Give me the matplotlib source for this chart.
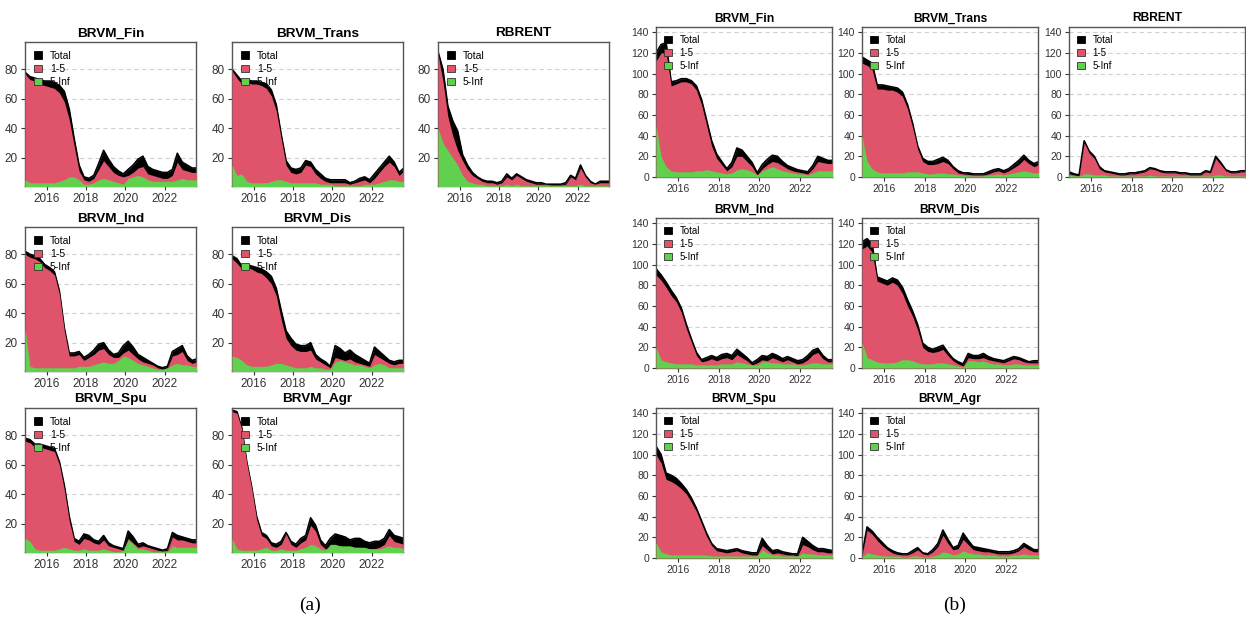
import matplotlib
matplotlib.use("Agg")
import matplotlib.pyplot as plt
from matplotlib.patches import Patch
import numpy as np

# quarterly sample dates (decimal years), shared by every panel
years = [2014.9 + 0.25 * i for i in range(36)]

# ---------------- panel (a) ----------------
fin_a_total = [78, 75, 74, 73, 72, 72, 71, 69, 65, 53, 33, 15, 7, 6, 8, 16, 25, 19, 14, 11, 9, 12, 15, 19, 21, 14, 12, 11, 10, 10, 12, 23, 17, 15, 13, 13]
fin_a_15 = [77, 73, 72, 70, 69, 68, 67, 64, 58, 46, 28, 11, 5, 4, 6, 12, 18, 14, 10, 8, 7, 8, 10, 13, 14, 9, 8, 7, 6, 6, 8, 17, 12, 11, 10, 10]
fin_a_5inf = [5, 3, 3, 3, 3, 3, 3, 4, 5, 7, 7, 5, 2, 2, 3, 5, 6, 5, 4, 3, 2, 6, 7, 8, 7, 5, 4, 4, 4, 4, 4, 5, 6, 5, 5, 5]

trans_a_total = [80, 76, 72, 73, 72, 72, 71, 70, 66, 56, 36, 18, 13, 12, 13, 18, 17, 12, 9, 6, 5, 5, 5, 5, 3, 4, 6, 7, 5, 9, 13, 17, 21, 17, 10, 13]
trans_a_15 = [79, 74, 70, 71, 70, 70, 69, 67, 62, 52, 33, 15, 10, 9, 10, 15, 14, 9, 6, 4, 3, 3, 3, 3, 2, 3, 4, 5, 3, 6, 10, 14, 17, 14, 8, 11]
trans_a_5inf = [15, 8, 9, 4, 3, 3, 3, 3, 4, 5, 5, 4, 3, 3, 3, 3, 3, 3, 2, 2, 2, 1, 1, 1, 1, 1, 1, 2, 2, 2, 3, 4, 5, 5, 4, 4]

rbrent_a_total = [92, 80, 55, 45, 38, 22, 15, 10, 7, 5, 4, 4, 3, 4, 9, 6, 9, 7, 5, 4, 3, 3, 2, 2, 2, 2, 3, 8, 6, 15, 8, 4, 2, 4, 4, 4]
rbrent_a_15 = [90, 72, 48, 35, 25, 18, 12, 8, 6, 4, 3, 3, 2, 3, 7, 5, 8, 6, 4, 3, 2, 2, 2, 1.5, 1.5, 1.5, 2, 7, 5, 13, 7, 3, 2, 3, 3, 3]
rbrent_a_5inf = [40, 30, 25, 20, 15, 8, 4, 3, 2, 2, 1, 1, 1, 1, 2, 1, 2, 1, 1, 1, 1, 1, 1, 1, 1, 1, 1, 1, 1, 2, 1, 1, 1, 1, 1, 1]

ind_a_total = [82, 80, 79, 77, 73, 71, 68, 55, 30, 13, 13, 14, 10, 12, 15, 19, 20, 15, 12, 13, 18, 21, 17, 12, 10, 8, 6, 4, 3, 4, 14, 16, 18, 11, 8, 9]
ind_a_15 = [80, 78, 77, 75, 71, 69, 66, 53, 28, 11, 11, 12, 8, 10, 12, 15, 16, 12, 10, 10, 13, 15, 12, 9, 7, 6, 5, 3, 2, 3, 11, 12, 14, 8, 6, 7]
ind_a_5inf = [30, 4, 3, 3, 3, 3, 3, 3, 3, 3, 3, 4, 4, 4, 5, 6, 7, 6, 6, 8, 11, 10, 8, 6, 5, 4, 3, 2, 2, 3, 5, 6, 5, 5, 4, 4]

dis_a_total = [79, 77, 72, 73, 72, 71, 70, 68, 65, 57, 42, 28, 23, 19, 18, 18, 20, 12, 9, 7, 4, 18, 16, 13, 15, 12, 10, 8, 6, 17, 14, 11, 8, 7, 8, 8]
dis_a_15 = [77, 74, 70, 71, 70, 68, 67, 64, 60, 52, 36, 23, 18, 15, 14, 14, 15, 9, 7, 5, 3, 10, 9, 8, 9, 7, 6, 5, 4, 12, 10, 8, 6, 5, 6, 6]
dis_a_5inf = [11, 10, 8, 5, 4, 4, 4, 4, 5, 6, 6, 5, 4, 3, 3, 3, 4, 3, 3, 2, 2, 7, 8, 7, 6, 5, 5, 4, 3, 5, 6, 5, 3, 3, 3, 3]

spu_a_total = [78, 77, 74, 74, 73, 72, 71, 62, 46, 25, 10, 8, 13, 12, 9, 8, 12, 7, 5, 4, 3, 15, 11, 6, 7, 5, 4, 3, 2, 3, 14, 12, 11, 10, 9, 9]
spu_a_15 = [76, 75, 72, 72, 71, 70, 69, 60, 43, 22, 8, 6, 10, 9, 7, 6, 9, 5, 4, 3, 2, 10, 7, 4, 5, 4, 3, 2, 1.5, 2, 11, 9, 9, 8, 7, 7]
spu_a_5inf = [10, 8, 3, 2, 2, 2, 2, 3, 4, 3, 2, 2, 3, 2, 2, 2, 3, 2, 1, 1, 2, 9, 6, 3, 3, 2, 1, 1, 1, 1, 5, 4, 4, 4, 4, 4]

agr_a_total = [97, 96, 85, 62, 45, 25, 14, 12, 7, 6, 8, 14, 8, 6, 10, 12, 24, 19, 9, 5, 10, 13, 12, 11, 9, 10, 10, 8, 7, 8, 8, 10, 16, 12, 11, 10]
agr_a_15 = [96, 95, 84, 61, 44, 23, 12, 10, 5, 4, 6, 13, 6, 4, 7, 9, 19, 15, 6, 3, 4, 5, 5, 4, 4, 4, 4, 3, 3, 3, 4, 6, 12, 8, 7, 6]
agr_a_5inf = [10, 3, 2, 2, 2, 2, 3, 4, 2, 2, 3, 2, 2, 2, 3, 4, 6, 5, 3, 2, 6, 6, 5, 5, 5, 4, 4, 4, 3, 3, 3, 4, 5, 4, 4, 3]

# ---------------- panel (b) ----------------
fin_b_total = [120, 128, 130, 92, 93, 95, 95, 93, 88, 75, 55, 35, 22, 15, 8, 14, 28, 26, 20, 14, 4, 12, 17, 21, 20, 15, 11, 9, 7, 6, 5, 11, 20, 18, 16, 16]
fin_b_15 = [112, 120, 120, 88, 90, 92, 92, 90, 84, 70, 50, 30, 18, 12, 6, 10, 20, 20, 15, 10, 2, 8, 12, 15, 14, 11, 8, 6, 5, 4, 3, 8, 15, 14, 13, 13]
fin_b_5inf = [50, 20, 10, 6, 5, 5, 5, 5, 6, 6, 7, 6, 5, 4, 3, 4, 7, 8, 7, 5, 2, 6, 8, 10, 8, 6, 5, 4, 3, 3, 2, 4, 6, 6, 6, 6]

trans_b_total = [116, 113, 110, 89, 89, 88, 87, 86, 82, 70, 52, 30, 18, 15, 15, 17, 19, 16, 10, 6, 4, 4, 3, 3, 3, 5, 7, 8, 6, 8, 12, 16, 21, 16, 13, 15]
trans_b_15 = [110, 108, 104, 85, 85, 84, 84, 82, 78, 66, 48, 27, 15, 12, 12, 13, 15, 13, 8, 4, 3, 2.5, 2, 2, 2, 3, 5, 6, 4, 6, 9, 12, 17, 13, 10, 12]
trans_b_5inf = [40, 15, 8, 5, 4, 4, 4, 4, 4, 5, 5, 5, 4, 3, 3, 4, 4, 3, 3, 2, 2, 1, 1, 1, 1, 2, 2, 3, 2, 3, 4, 5, 6, 5, 4, 4]

rbrent_b_total = [5, 3, 2, 35, 25, 20, 10, 6, 5, 4, 3, 3, 4, 4, 5, 6, 9, 8, 6, 5, 5, 5, 4, 4, 3, 3, 3, 6, 5, 20, 14, 7, 5, 5, 6, 6]
rbrent_b_15 = [3, 2, 1, 33, 23, 18, 8, 5, 4, 3, 2, 2, 3, 3, 4, 5, 8, 7, 5, 4, 4, 4, 3, 3, 2, 2, 2, 5, 4, 18, 12, 6, 4, 4, 5, 5]
rbrent_b_5inf = [2, 1, 1, 3, 3, 2, 2, 2, 1, 1, 1, 1, 1, 1, 1, 1, 2, 1, 1, 1, 1, 1, 1, 1, 1, 1, 1, 1, 1, 2, 2, 1, 1, 1, 1, 1]

ind_b_total = [96, 90, 83, 75, 68, 58, 42, 28, 15, 8, 10, 12, 10, 13, 14, 12, 18, 14, 10, 5, 8, 12, 11, 14, 12, 9, 11, 9, 7, 8, 12, 17, 19, 12, 8, 8]
ind_b_15 = [90, 85, 78, 70, 64, 54, 38, 25, 12, 6, 7, 9, 7, 9, 10, 8, 13, 10, 7, 3, 5, 8, 7, 10, 8, 6, 8, 6, 4, 5, 8, 13, 15, 9, 6, 6]
ind_b_5inf = [20, 8, 6, 5, 4, 4, 4, 4, 3, 3, 3, 3, 3, 4, 4, 4, 6, 5, 4, 3, 3, 6, 6, 5, 5, 4, 4, 4, 3, 3, 4, 5, 5, 4, 4, 4]

dis_b_total = [122, 125, 120, 88, 86, 84, 87, 85, 78, 66, 55, 42, 24, 20, 18, 20, 22, 15, 9, 6, 4, 14, 12, 12, 14, 11, 9, 8, 7, 9, 11, 10, 8, 6, 7, 7]
dis_b_15 = [115, 118, 112, 84, 82, 80, 83, 80, 72, 60, 50, 37, 20, 16, 15, 16, 18, 12, 7, 4, 2, 10, 9, 9, 10, 8, 7, 6, 5, 7, 9, 8, 6, 5, 5, 5]
dis_b_5inf = [25, 10, 8, 6, 5, 5, 5, 6, 8, 8, 7, 5, 4, 4, 4, 5, 5, 4, 3, 2, 1, 7, 7, 6, 7, 5, 4, 4, 3, 3, 4, 4, 3, 3, 3, 3]

spu_b_total = [108, 100, 82, 80, 77, 72, 66, 58, 48, 36, 24, 14, 9, 8, 7, 8, 9, 7, 6, 5, 5, 19, 12, 7, 8, 6, 5, 4, 4, 20, 16, 12, 9, 9, 8, 7]
spu_b_15 = [100, 92, 76, 74, 71, 67, 62, 54, 45, 33, 21, 12, 7, 6, 5, 6, 7, 5, 4, 3, 3, 12, 8, 4, 5, 4, 3, 3, 2, 13, 11, 8, 6, 6, 5, 5]
spu_b_5inf = [15, 6, 4, 3, 3, 3, 3, 3, 3, 3, 3, 2, 2, 2, 2, 2, 2, 2, 2, 2, 2, 8, 5, 3, 3, 2, 2, 2, 2, 5, 4, 4, 3, 3, 3, 3]

agr_b_total = [3, 30, 26, 20, 15, 10, 7, 5, 4, 4, 7, 10, 5, 4, 8, 14, 27, 18, 10, 12, 24, 17, 11, 10, 9, 8, 7, 6, 6, 6, 7, 9, 14, 11, 8, 8]
agr_b_15 = [2, 27, 23, 17, 12, 8, 5, 3.5, 3, 3, 5, 8, 4, 3, 6, 11, 22, 14, 8, 9, 18, 13, 8, 7, 6, 6, 5, 4, 4, 4, 5, 7, 11, 8, 6, 6]
agr_b_5inf = [1, 5, 4, 3, 2, 2, 2, 2, 1, 1, 2, 2, 1, 1, 2, 3, 6, 5, 3, 4, 7, 5, 4, 4, 3, 3, 3, 2, 2, 2, 3, 3, 4, 3, 3, 3]

tick_years = [2016, 2018, 2020, 2022]
legend_labels = ["Total", "1-5", "5-Inf"]

RED = "#DF536B"
GREEN = "#61D04F"

# (title, row, col, total, 1-5, 5-Inf)
panel_a = [
    ("BRVM_Fin", 0, 0, fin_a_total, fin_a_15, fin_a_5inf),
    ("BRVM_Trans", 0, 1, trans_a_total, trans_a_15, trans_a_5inf),
    ("RBRENT", 0, 2, rbrent_a_total, rbrent_a_15, rbrent_a_5inf),
    ("BRVM_Ind", 1, 0, ind_a_total, ind_a_15, ind_a_5inf),
    ("BRVM_Dis", 1, 1, dis_a_total, dis_a_15, dis_a_5inf),
    ("BRVM_Spu", 2, 0, spu_a_total, spu_a_15, spu_a_5inf),
    ("BRVM_Agr", 2, 1, agr_a_total, agr_a_15, agr_a_5inf),
]
panel_b = [
    ("BRVM_Fin", 0, 0, fin_b_total, fin_b_15, fin_b_5inf),
    ("BRVM_Trans", 0, 1, trans_b_total, trans_b_15, trans_b_5inf),
    ("RBRENT", 0, 2, rbrent_b_total, rbrent_b_15, rbrent_b_5inf),
    ("BRVM_Ind", 1, 0, ind_b_total, ind_b_15, ind_b_5inf),
    ("BRVM_Dis", 1, 1, dis_b_total, dis_b_15, dis_b_5inf),
    ("BRVM_Spu", 2, 0, spu_b_total, spu_b_15, spu_b_5inf),
    ("BRVM_Agr", 2, 1, agr_b_total, agr_b_15, agr_b_5inf),
]

W, H = 1246, 617
fig = plt.figure(figsize=(W / 100, H / 100), dpi=100)
plt.rcParams["font.family"] = ["Liberation Sans", "DejaVu Sans"]


def draw(ax, title, total, low, high, ylim, yticks, fs, lfs):
    ax.fill_between(years, 0, total, color="black", lw=0, zorder=2)
    ax.plot(years, total, color="black", lw=1.2, zorder=2)
    ax.fill_between(years, 0, low, color=RED, lw=0, zorder=3)
    ax.fill_between(years, 0, high, color=GREEN, lw=0, zorder=4)
    ax.set_xlim(2014.9, 2023.6)
    ax.set_ylim(*ylim)
    ax.set_xticks(tick_years)
    ax.set_yticks(yticks)
    ax.yaxis.grid(True, color="#D0D0D0", linestyle=(0, (4, 3)), lw=0.8)
    ax.set_axisbelow(True)
    for s in ax.spines.values():
        s.set_color("#555555")
        s.set_linewidth(1.0)
    ax.tick_params(length=3, width=0.8, color="#333333", labelcolor="#333333",
                   labelsize=fs, pad=2)
    ax.set_title(title, fontsize=fs + 1.2, fontweight="bold", pad=4)
    handles = [Patch(facecolor="black", edgecolor="black", lw=0.6),
               Patch(facecolor=RED, edgecolor="#333333", lw=0.6),
               Patch(facecolor=GREEN, edgecolor="#333333", lw=0.6)]
    leg = ax.legend(handles, legend_labels, loc="upper left", frameon=False,
                    fontsize=lfs, handlelength=0.75, handleheight=0.75,
                    handletextpad=0.8, labelspacing=0.3, borderaxespad=0.45)
    leg.set_zorder(10)


# panel (a) geometry in pixels
a_cols, a_w = [25, 232, 438], 171
a_rows, a_h = [42, 227, 408], 144
for title, r, c, tot, low, high in panel_a:
    ax = fig.add_axes([a_cols[c] / W, 1 - (a_rows[r] + a_h) / H, a_w / W, a_h / H])
    draw(ax, title, tot, low, high, (0.8, 98.5), [20, 40, 60, 80], 8.5, 7.5)

# panel (b) geometry in pixels
b_cols, b_w = [656, 862, 1069], 176
b_rows, b_h = [27, 218, 408], 150
for title, r, c, tot, low, high in panel_b:
    ax = fig.add_axes([b_cols[c] / W, 1 - (b_rows[r] + b_h) / H, b_w / W, b_h / H])
    draw(ax, title, tot, low, high, (0, 145), list(range(0, 141, 20)), 7.5, 7)

fig.text(310 / W, 1 - 605 / H, "(a)", ha="center", va="center",
         fontsize=14, family="Liberation Serif")
fig.text(955 / W, 1 - 605 / H, "(b)", ha="center", va="center",
         fontsize=14, family="Liberation Serif")

fig.savefig("out.png", dpi=100)
plt.close(fig)
